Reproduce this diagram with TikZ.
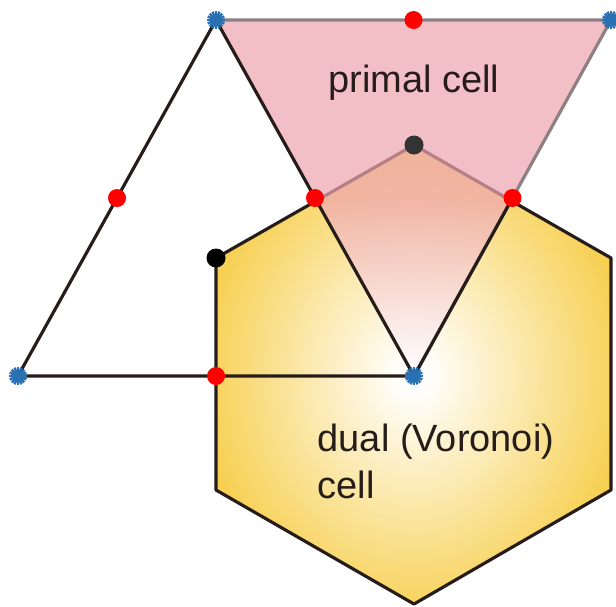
\documentclass[tikz,border=0pt]{standalone}
\usepackage{tikz}
\usetikzlibrary{calc}
\usepackage{fontspec}
\setmainfont{Liberation Sans}
\usepackage{xcolor}
\definecolor{cellpink}{RGB}{238,166,176}
\definecolor{voroyellow}{RGB}{247,208,82}
\definecolor{vertblue}{RGB}{40,112,178}
\definecolor{edgegray}{RGB}{140,128,130}
\definecolor{inkdark}{RGB}{38,28,26}
\pgfdeclareradialshading{voroshade}{\pgfpoint{0bp}{0bp}}{color(0bp)=(white); color(1.5bp)=(white); color(27bp)=(voroyellow); color(50bp)=(voroyellow)}
\pgfdeclareverticalshading{primshade}{100bp}{color(0bp)=(white); color(25bp)=(white); color(50bp)=(cellpink); color(100bp)=(cellpink)}

\begin{document}
\begin{tikzpicture}[x=0.01cm, y=-0.01cm,
  every node/.style={font=\fontsize{10.8}{13.4}\selectfont, text=inkdark},
  meshline/.style={line width=0.9pt, inkdark, line join=round},
  reddot/.style={circle, fill=red, inner sep=0pt, minimum size=0.18cm},
  blackdot/.style={circle, fill=black, inner sep=0pt, minimum size=0.19cm},
  centerdot/.style={circle, fill=black!80, inner sep=0pt, minimum size=0.19cm}]
  \useasboundingbox (0,0) rectangle (616,606);
  % triangle vertices
  \coordinate (A) at (216,20);
  \coordinate (B) at (611,20);
  \coordinate (C) at (18,376);
  \coordinate (D) at (414,376);
  % hexagon vertices
  \coordinate (h1) at (414,145);
  \coordinate (h2) at (216,258);
  \coordinate (h3) at (216,490);
  \coordinate (h4) at (414,604);
  \coordinate (h5) at (611,490);
  \coordinate (h6) at (611,258);
  % dual cell
  \shade[shading=voroshade] (h1) -- (h2) -- (h3) -- (h4) -- (h5) -- (h6) -- cycle;
  \draw[meshline] (h1) -- (h2) -- (h3) -- (h4) -- (h5) -- (h6) -- cycle;
  % primal cell
  \shade[shading=primshade, fill opacity=0.72] (A) -- (B) -- (D) -- cycle;
  \draw[edgegray, line width=0.9pt] (A) -- (B) -- (D);
  % mesh edges
  \draw[meshline] (A) -- (C) -- (D) -- cycle;
  \draw[meshline] ($(B)!0.5!(D)$) -- (D);
  % vertices
  \foreach \v in {A,B,C,D}
    \foreach \a in {0,22.5,...,337.5}
      \draw[vertblue, line width=0.7pt] (\v) -- ++(\a:9);
  % edge midpoints and centroids
  \node[reddot] (mAB) at ($(A)!0.5!(B)$) {};
  \node[reddot] (mAC) at ($(A)!0.5!(C)$) {};
  \node[reddot] (mAD) at ($(A)!0.5!(D)$) {};
  \node[reddot] (mBD) at ($(B)!0.5!(D)$) {};
  \node[reddot] (mCD) at ($(C)!0.5!(D)$) {};
  \node[blackdot] (gL) at (h2) {};
  \node[centerdot] (gP) at (h1) {};
  % labels
  \node[anchor=base] (primlab) at (414,92) {primal cell};
  \node[anchor=north west, align=left, inner sep=0pt] (duallab) at (317,423) {dual (Voronoi)\\cell};
\end{tikzpicture}
\end{document}
